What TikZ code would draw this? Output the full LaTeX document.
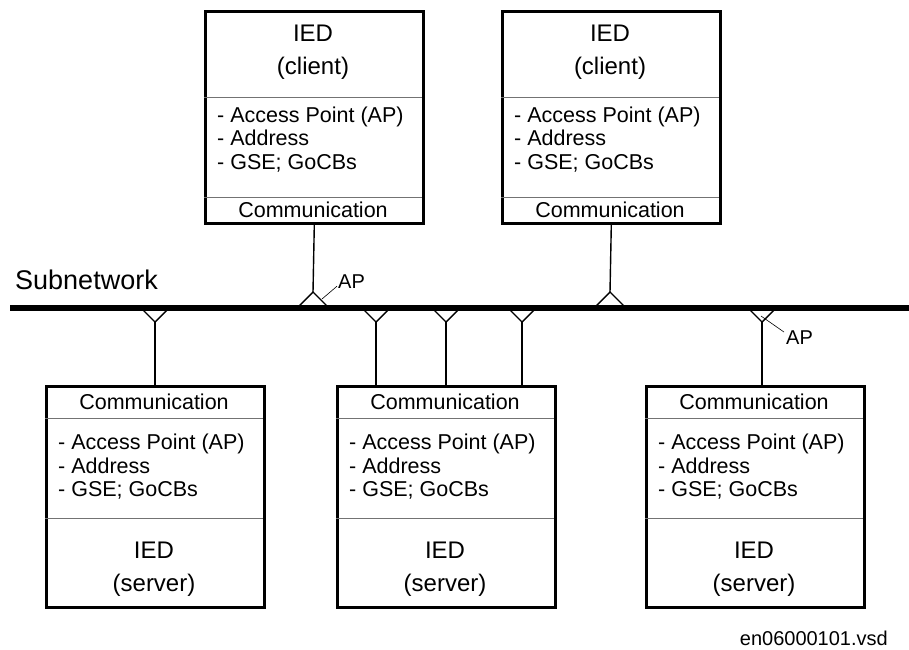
\documentclass[tikz,border=0pt]{standalone}
\usepackage{fontspec}
\setmainfont{Liberation Sans}

\begin{document}
\begin{tikzpicture}[x=1pt,y=-1pt,
  iedbox/.style={draw,line width=2.6pt,minimum width=218pt,inner sep=0pt,anchor=north west},
  divider/.style={black!55,line width=1pt},
  ttl/.style={inner sep=0pt,align=center,font=\fontsize{24}{33}\selectfont},
  lst/.style={inner sep=0pt,align=left,anchor=west,font=\fontsize{21.5}{23.5}\selectfont},
  com/.style={inner sep=0pt,font=\fontsize{21.5}{23}\selectfont},
  link/.style={line width=1.4pt},
  lead/.style={line width=0.6pt}]
  \useasboundingbox (0,0) rectangle (909,649);

  \foreach \n/\x in {c1/204,c2/501} {
    \node[iedbox,minimum height=212pt] (\n) at (\x,10) {};
    \draw[divider] (\x,97) -- ++(218,0);
    \draw[divider] (\x,197) -- ++(218,0);
    \node[ttl] (\n-name) at (\x+109,52) {IED\\(client)};
    \node[lst] (\n-list) at (\x+13,139.5) {- Access Point (AP)\\- Address\\- GSE; GoCBs};
    \node[com] (\n-com) at (\x+109,210) {Communication};
  }
  \foreach \n/\x in {s1/45,s2/336,s3/645} {
    \node[iedbox,minimum height=221pt] (\n) at (\x,385) {};
    \draw[divider] (\x,418) -- ++(218,0);
    \draw[divider] (\x,518) -- ++(218,0);
    \node[com] (\n-com) at (\x+109,402) {Communication};
    \node[lst] (\n-list) at (\x+13,467) {- Access Point (AP)\\- Address\\- GSE; GoCBs};
    \node[ttl] (\n-name) at (\x+109,569.5) {IED\\(server)};
  }

  \coordinate (bw) at (10,307.5);
  \coordinate (be) at (909,307.5);
  \foreach \a/\x in {a1/313,a2/610} {
    \coordinate (\a) at (\x,292);
    \draw[link] (\a) ++(-14,14) -- (\a) -- ++(14,14);
  }
  \foreach \b/\x in {b1/155,b2/376,b3/446,b4/522,b5/762} {
    \coordinate (\b) at (\x,322);
    \draw[link] (\b) ++(-13,-13) -- (\b) -- ++(13,-13);
  }
  \draw[link] (c1.south) -- (a1);
  \draw[link] (c2.south) -- (a2);
  \foreach \b/\s in {b1/s1,b2/s2,b3/s2,b4/s2,b5/s3} {
    \draw[link] (\b) -- (\b |- \s.north);
  }
  \draw[line width=6pt] (bw) -- (be);

  \node[anchor=base west,inner sep=0pt,font=\fontsize{27}{30}\selectfont] (sub) at (15,289) {Subnetwork};
  \node[anchor=base west,inner sep=0pt,font=\fontsize{20}{22}\selectfont] (ap1) at (338,288) {AP};
  \node[anchor=base west,inner sep=0pt,font=\fontsize{20}{22}\selectfont] (ap2) at (786,344) {AP};
  \coordinate (l1) at (322,299);
  \coordinate (l2) at (761,316);
  \draw[lead] (l1) -- ([shift={(-1,-2)}]ap1.south west);
  \draw[lead] (l2) -- ([shift={(-2,2)}]ap2.north west);
  \node[anchor=base east,inner sep=0pt,font=\fontsize{20}{22}\selectfont] (file) at (888,645) {en06000101.vsd};
\end{tikzpicture}
\end{document}
